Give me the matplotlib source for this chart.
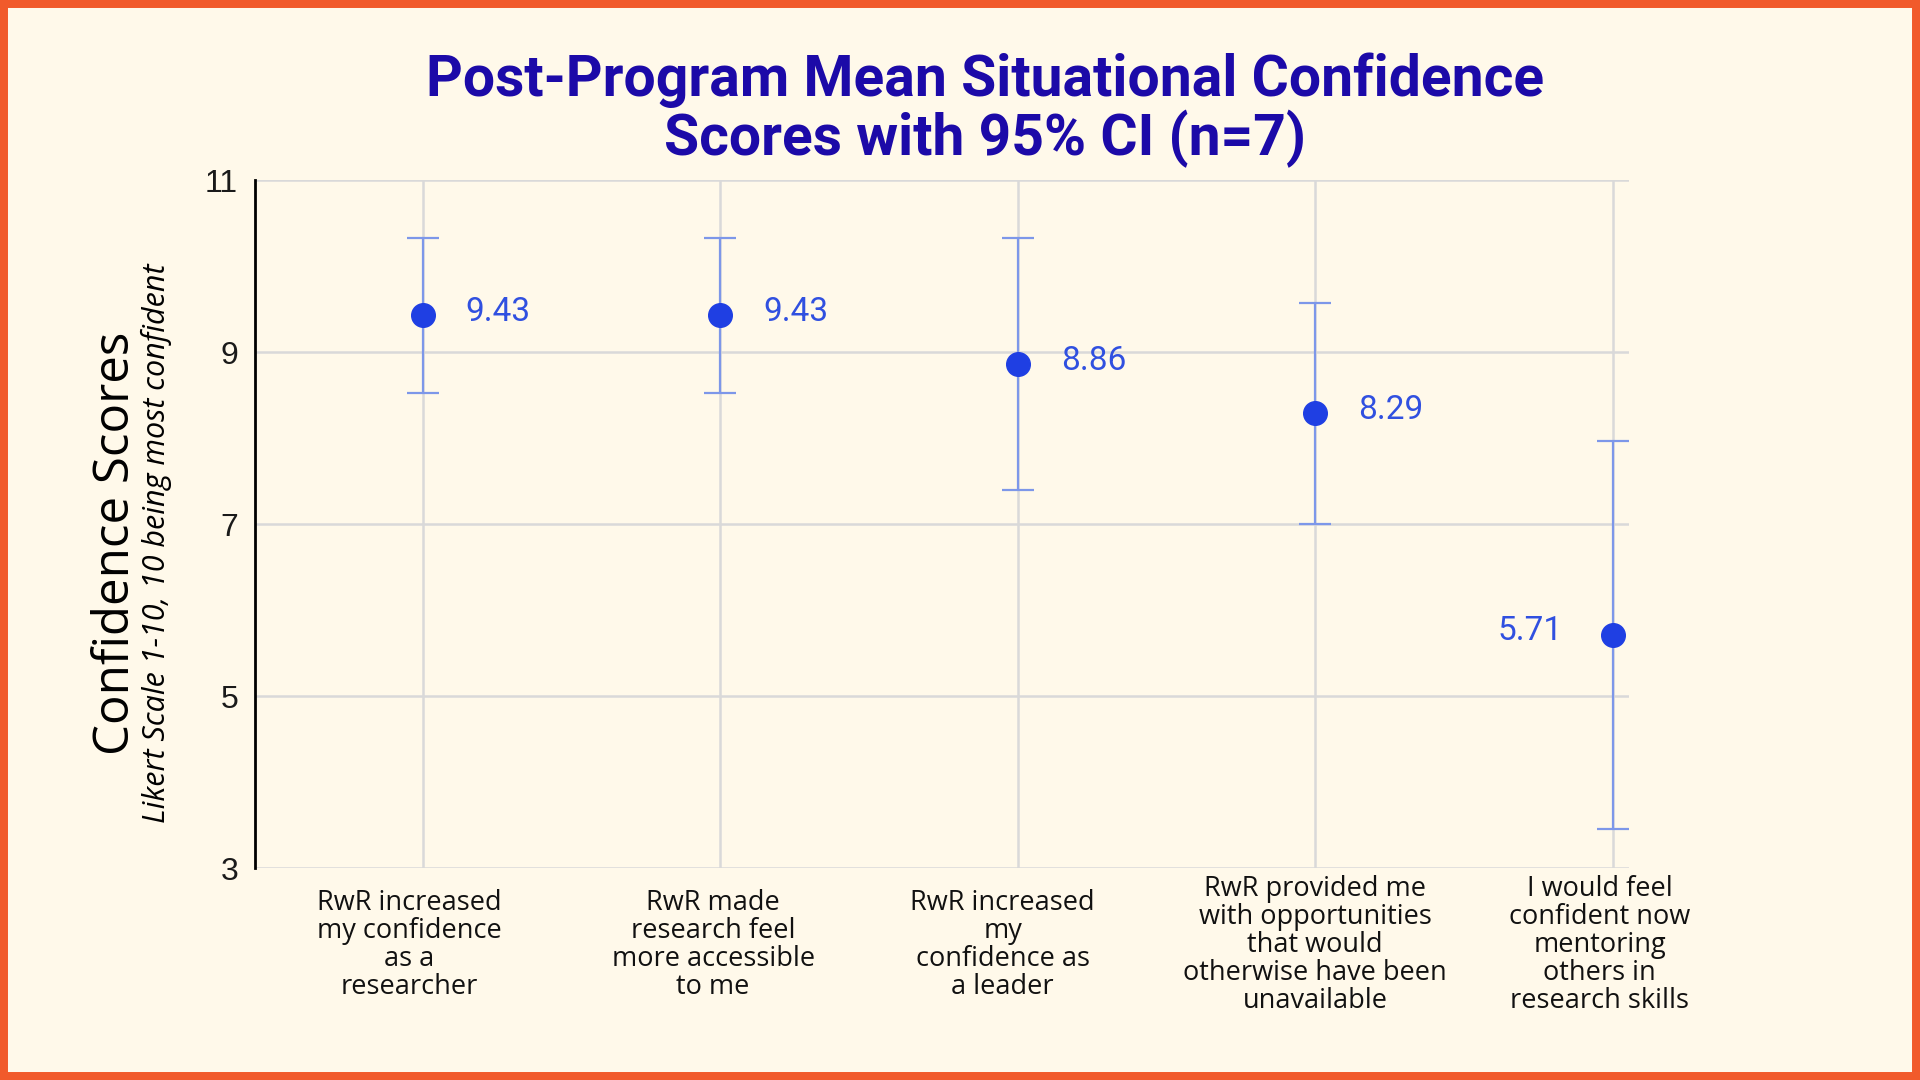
import matplotlib.pyplot as plt
from matplotlib.patches import Rectangle
from matplotlib.transforms import ScaledTranslation
import warnings
warnings.filterwarnings("ignore")

# data
statements = [
    "RwR increased\nmy confidence\nas a\nresearcher",
    "RwR made\nresearch feel\nmore accessible\nto me",
    "RwR increased\nmy\nconfidence as\na leader",
    "RwR provided me\nwith opportunities\nthat would\notherwise have been\nunavailable",
    "I would feel\nconfident now\nmentoring\nothers in\nresearch skills",
]
means = [9.43, 9.43, 8.86, 8.29, 5.71]
ci_low = [8.53, 8.53, 7.40, 7.00, 3.46]
ci_high = [10.33, 10.33, 10.33, 9.57, 7.97]
yticks = [3, 5, 7, 9, 11]

BG = "#FFF9EA"
BORDER = "#F15A2B"
TITLE = "#1C0AA8"
POINT = "#1F3FE3"
BAR = "#7D97E9"
LABEL = "#3050E0"
GRID = "#D9D9D9"

fig = plt.figure(figsize=(19.2, 10.8), dpi=100, facecolor=BG)
ax = fig.add_axes([0.1327, 0.1961, 0.7155, 0.6372])
ax.set_facecolor(BG)

x = list(range(len(means)))
err_lo = [m - lo for m, lo in zip(means, ci_low)]
err_hi = [hi - m for m, hi in zip(means, ci_high)]
ax.errorbar(x, means, yerr=[err_lo, err_hi], fmt="none", ecolor=BAR,
            elinewidth=1.6, capsize=11.5, capthick=1.6, zorder=3)
ax.plot(x, means, "o", color=POINT, markersize=17, zorder=4)

for i, m in enumerate(means):
    if i == len(means) - 1:
        ax.annotate(f"{m:.2f}", (i, m), xytext=(-36, 3), textcoords="offset points",
                    ha="right", va="center", color=LABEL, fontsize=24, family="Roboto")
    else:
        ax.annotate(f"{m:.2f}", (i, m), xytext=(31, 2.5), textcoords="offset points",
                    ha="left", va="center", color=LABEL, fontsize=24, family="Roboto")

ax.set_xlim(-0.564, 4.053)
ax.set_ylim(3, 11)
ax.set_yticks(yticks)
ax.set_yticklabels([str(t) for t in yticks], fontsize=23, family="Liberation Sans", color="#1a1a1a")
ax.set_xticks(x)
ax.set_xticklabels(statements, fontsize=19.5, family="Open Sans", color="#111111",
                   va="center", ha="center", linespacing=1.0)
ax.tick_params(axis="x", length=0, pad=55)
ax.tick_params(axis="y", length=0, pad=12)

# the wrapped labels sit a little left of their ticks in the original
shifts = [-13, -7, -15, 0, -13]
for lab, dx in zip(ax.get_xticklabels(), shifts):
    lab.set_transform(lab.get_transform() + ScaledTranslation(dx / 100, 0, fig.dpi_scale_trans))

ax.grid(True, color=GRID, linewidth=1.8, zorder=0)
ax.set_axisbelow(True)
for side in ["top", "right", "bottom"]:
    ax.spines[side].set_visible(False)
ax.spines["left"].set_color("black")
ax.spines["left"].set_linewidth(2)
ax.spines["left"].set_zorder(5)

fig.text(0.0605, 0.497, "Confidence Scores", rotation=90, ha="center", va="center",
         fontsize=35.5, family="Open Sans", color="black")
fig.text(0.0815, 0.497, "Likert Scale 1-10, 10 being most confident", rotation=90,
         ha="center", va="center", fontsize=22, family="Open Sans", style="italic", color="black")

fig.text(0.5128, 0.898, "Post-Program Mean Situational Confidence\nScores with 95% CI (n=7)",
         ha="center", va="center", fontsize=41, fontweight="bold", family="Roboto",
         color=TITLE, linespacing=1.02)

fig.patches.append(Rectangle((0, 0), 1, 1, transform=fig.transFigure, fill=False,
                             edgecolor=BORDER, linewidth=11.5, zorder=10))

plt.savefig("out.png", dpi=100, facecolor=BG)
plt.close()
